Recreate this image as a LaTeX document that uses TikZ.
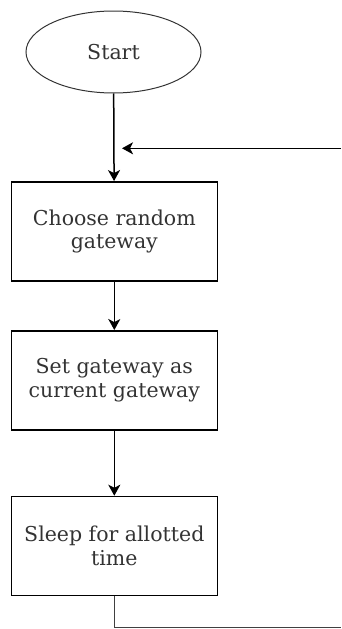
\documentclass[tikz,border=0pt]{standalone}
\usepackage{fontspec}
\setmainfont{DejaVu Serif}
\usetikzlibrary{shapes.geometric,arrows.meta}
\begin{document}
\begin{tikzpicture}[x=1pt,y=-1pt,
  box/.style={draw, line width=1.5pt, minimum width=206pt, minimum height=99pt, align=center, inner sep=0pt, font=\fontsize{20.5}{23.5}\selectfont, text=black!80},
  oval/.style={draw, ellipse, line width=1pt, draw=black!80, minimum width=175pt, minimum height=82pt, inner sep=0pt, font=\fontsize{20.5}{23.5}\selectfont, text=black!80},
  arr/.style={line width=1.5pt, -{Stealth[length=11pt,width=12pt,inset=3pt]}},
  ln/.style={line width=1.2pt, draw=black!75}]
\useasboundingbox (0,0) rectangle (341,629);
\node[oval] (start) at (113.5,52) {Start};
\node[box] (b1) at (114.3,231.3) {Choose random\\gateway};
\node[box] (b2) at (114.3,380.3) {Set gateway as\\current gateway};
\node[box] (b3) at (114.3,546) {Sleep for allotted\\time};
\coordinate (r1) at (341,148.3);
\coordinate (m1) at (122,148.3);
\coordinate (c1) at (114.3,627.5);
\coordinate (c2) at (341,627.5);
\draw[arr] (start) -- (b1);
\draw[arr] (r1) -- (m1);
\draw[arr] (b1) -- (b2);
\draw[arr] (b2) -- (b3);
\draw[ln] (b3.south) -- (c1) -- (c2);
\end{tikzpicture}
\end{document}
